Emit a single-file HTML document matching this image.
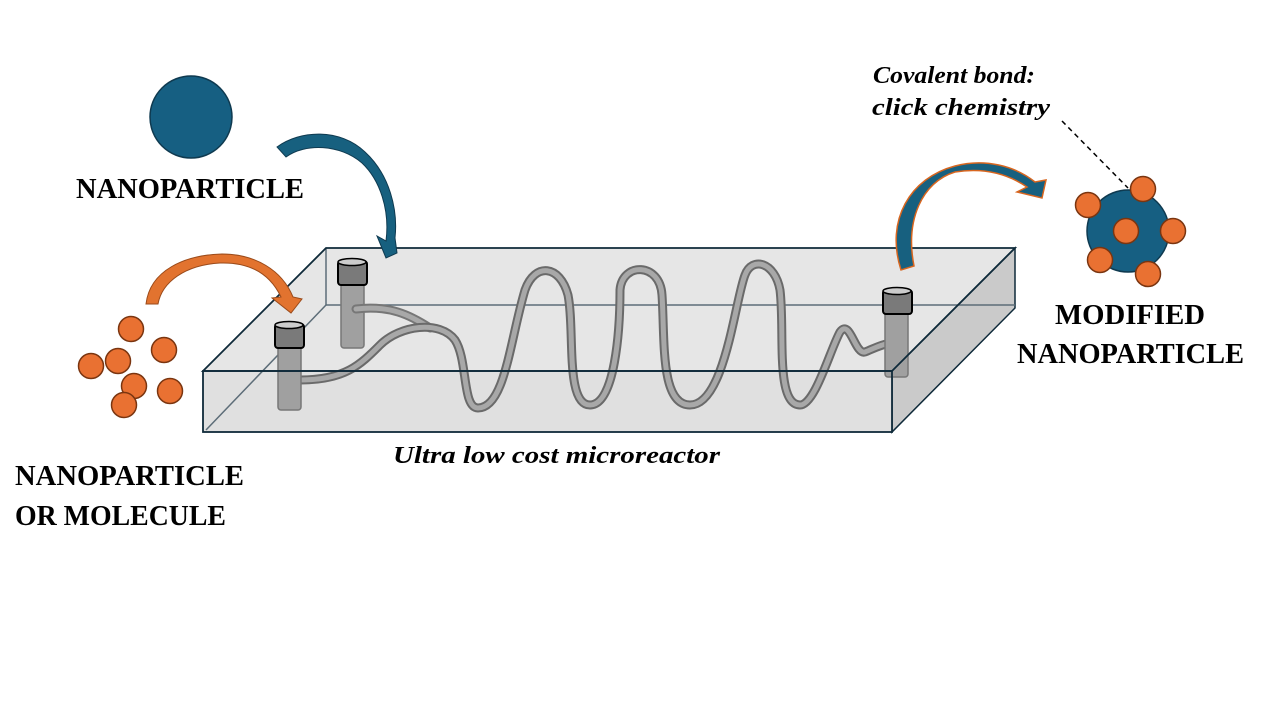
<!DOCTYPE html>
<html><head><style>body{margin:0;background:#fff}svg{display:block}</style></head><body>
<svg width="1280" height="720" xmlns="http://www.w3.org/2000/svg" font-family="Liberation Serif, serif" font-weight="bold">
<rect width="1280" height="720" fill="#fff"/>
<!-- box -->
<polygon points="203,371 326,248 1015,248 892,371" fill="#e6e6e6"/>
<polygon points="892,371 1015,248 1015,308 892,432" fill="#cacaca" stroke="#0f2a3a" stroke-width="1.5"/>
<polygon points="203,371 892,371 892,432 203,432" fill="#e0e0e0"/>
<line x1="326" y1="305" x2="1015" y2="305" stroke="#5d6d78" stroke-width="1.5"/>
<line x1="326" y1="305" x2="206" y2="430" stroke="#5d6d78" stroke-width="1.5"/>
<line x1="326" y1="248" x2="326" y2="305" stroke="#5d6d78" stroke-width="1.5"/>
<!-- back pillar -->
<rect x="341" y="280" width="23" height="68" rx="3" fill="#a0a0a0" stroke="#777" stroke-width="1.5"/>
<rect x="338" y="261" width="29" height="24" rx="3" fill="#7a7a7a" stroke="#000" stroke-width="2"/>
<ellipse cx="352" cy="262" rx="14" ry="3.5" fill="#ccc" stroke="#000" stroke-width="1.5"/>
<!-- tubes -->
<g fill="none" stroke-linecap="round" stroke-linejoin="round">
<path d="M356,309 C390,305 410,315 430,328" stroke="#777" stroke-width="9"/>
<path d="M356,309 C390,305 410,315 430,328" stroke="#a8a8a8" stroke-width="5"/>
<path d="M300,380 C345,380 360,365 380,345 C400,325 440,320 455,340 C468,360 462,408 478,408 C505,408 510,340 525,290 C535,262 560,265 568,295 C575,330 565,405 590,405 C615,405 620,330 620,290 C622,262 660,262 662,295 C665,340 660,405 690,405 C725,405 735,300 745,275 C752,256 775,262 780,290 C785,330 775,405 800,405 C815,405 830,350 840,332 C850,318 855,355 865,352 C875,348 880,345 890,343" stroke="#6a6a6a" stroke-width="9"/>
<path d="M300,380 C345,380 360,365 380,345 C400,325 440,320 455,340 C468,360 462,408 478,408 C505,408 510,340 525,290 C535,262 560,265 568,295 C575,330 565,405 590,405 C615,405 620,330 620,290 C622,262 660,262 662,295 C665,340 660,405 690,405 C725,405 735,300 745,275 C752,256 775,262 780,290 C785,330 775,405 800,405 C815,405 830,350 840,332 C850,318 855,355 865,352 C875,348 880,345 890,343" stroke="#a8a8a8" stroke-width="5"/>
</g>
<!-- front pillar -->
<rect x="278" y="342" width="23" height="68" rx="3" fill="#a0a0a0" stroke="#777" stroke-width="1.5"/>
<rect x="275" y="324" width="29" height="24" rx="3" fill="#7a7a7a" stroke="#000" stroke-width="2"/>
<ellipse cx="289" cy="325" rx="14" ry="3.5" fill="#ccc" stroke="#000" stroke-width="1.5"/>
<!-- right pillar -->
<rect x="885" y="310" width="23" height="67" rx="3" fill="#a0a0a0" stroke="#777" stroke-width="1.5"/>
<rect x="883" y="290" width="29" height="24" rx="3" fill="#7a7a7a" stroke="#000" stroke-width="2"/>
<ellipse cx="897" cy="291" rx="14" ry="3.5" fill="#ccc" stroke="#000" stroke-width="1.5"/>
<!-- front edges over -->
<polygon points="203,371 326,248 1015,248 892,371" fill="none" stroke="#0f2a3a" stroke-width="1.8"/>
<rect x="203" y="371" width="689" height="61" fill="none" stroke="#0f2a3a" stroke-width="1.8"/>
<!-- arrows -->
<path d="M277,147 C300,130 340,128 365,152 C390,175 398,210 395,238 L397,253 L386,258 L377,236 L386,241 C390,210 380,180 362,163 C340,144 305,143 286,157 Z" fill="#17607f" stroke="#0f3a50" stroke-width="1"/>
<path d="M146,304 C150,270 185,255 222,254 C255,254 282,270 293,297 L302,299 L291,313 L272,298 L281,297 C270,274 250,262 220,263 C185,265 162,282 158,304 Z" fill="#e2732f" stroke="#9a4a1a" stroke-width="1"/>
<path d="M901,270 C885,220 910,178 955,166 C985,158 1015,166 1035,182 L1046,180 L1042,198 L1017,192 L1027,187 C1005,172 980,168 955,172 C922,182 905,220 914,266 Z" fill="#17607f" stroke="#d8661f" stroke-width="1.5"/>
<!-- nanoparticle -->
<circle cx="191" cy="117" r="41" fill="#165f82" stroke="#0f3a50" stroke-width="1.5"/>
<g fill="#e97132" stroke="#7a3510" stroke-width="1.5">
<circle cx="131" cy="329" r="12.5"/><circle cx="164" cy="350" r="12.5"/><circle cx="91" cy="366" r="12.5"/><circle cx="118" cy="361" r="12.5"/><circle cx="134" cy="386" r="12.5"/><circle cx="170" cy="391" r="12.5"/><circle cx="124" cy="405" r="12.5"/>
</g>
<!-- modified -->
<circle cx="1128" cy="231" r="41" fill="#165f82" stroke="#0f3a50" stroke-width="1.5"/>
<g fill="#e97132" stroke="#7a3510" stroke-width="1.5">
<circle cx="1143" cy="189" r="12.5"/><circle cx="1088" cy="205" r="12.5"/><circle cx="1126" cy="231" r="12.5"/><circle cx="1173" cy="231" r="12.5"/><circle cx="1100" cy="260" r="12.5"/><circle cx="1148" cy="274" r="12.5"/>
</g>
<line x1="1062" y1="121" x2="1128" y2="188" stroke="#000" stroke-width="1.5" stroke-dasharray="5,4"/>
<!-- text -->
<g font-size="28" fill="#000" lengthAdjust="spacingAndGlyphs">
<text x="76" y="198" textLength="228" lengthAdjust="spacingAndGlyphs">NANOPARTICLE</text>
<text x="15" y="485" textLength="229" lengthAdjust="spacingAndGlyphs">NANOPARTICLE</text>
<text x="15" y="525" textLength="211" lengthAdjust="spacingAndGlyphs">OR MOLECULE</text>
<text x="1055" y="324" textLength="150" lengthAdjust="spacingAndGlyphs">MODIFIED</text>
<text x="1017" y="363" textLength="227" lengthAdjust="spacingAndGlyphs">NANOPARTICLE</text>
</g>
<g font-size="24" font-style="italic" fill="#000">
<text x="393" y="463" textLength="327" lengthAdjust="spacingAndGlyphs">Ultra low cost microreactor</text>
<text x="873" y="83" textLength="162" lengthAdjust="spacingAndGlyphs">Covalent bond:</text>
<text x="872" y="115" textLength="178" lengthAdjust="spacingAndGlyphs">click chemistry</text>
</g>
</svg>
</body></html>
